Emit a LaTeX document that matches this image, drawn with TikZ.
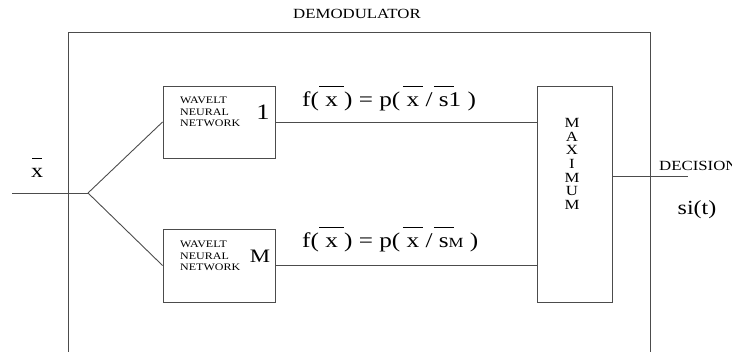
\documentclass[tikz,border=0pt]{standalone}
\usepackage{fontspec}
\setmainfont{Liberation Serif}[FakeStretch=1.2]
\newcommand\obar[3]{\ooalign{#1\cr\hidewidth\raisebox{#2}{\rule{#3}{0.8pt}}\hidewidth\cr}}
\tikzset{
  ln/.style={draw=black!70, line width=0.9pt},
  blk/.style={draw=black!70, line width=0.9pt, inner sep=0pt},
  small/.style={font=\fontsize{10}{11.5}\selectfont, align=left, inner sep=0pt},
  mid/.style={font=\fontsize{14}{13.7}\selectfont, inner sep=0pt},
  big/.style={font=\fontsize{19}{19}\selectfont, inner sep=0pt},
  formula/.style={font=\fontsize{21}{21}\selectfont, inner sep=0pt, anchor=base west},
}
\begin{document}
\begin{tikzpicture}[x=1pt,y=-1pt]
\useasboundingbox (0,0) rectangle (732,352);
% outer demodulator frame (open at bottom)
\draw[ln] (68,360) -- (68,32) -- (650,32) -- (650,360);
\node[mid] (demod) at (357,14) {DEMODULATOR};
% blocks
\node[blk, minimum width=112pt, minimum height=72pt] (w1) at (219,122) {};
\node[blk, minimum width=112pt, minimum height=73pt] (wm) at (219,265.5) {};
\node[blk, minimum width=75pt, minimum height=216pt] (mx) at (574.5,194) {};
% block texts
\node[small, anchor=west] (w1t) at (180,112) {WAVELT\\NEURAL\\NETWORK};
\node[big, font=\fontsize{22}{22}\selectfont] (w1n) at (263,112) {1};
\node[small, anchor=west] (wmt) at (180,256) {WAVELT\\NEURAL\\NETWORK};
\node[big] (wmn) at (260,256) {M};
\node[mid, align=center] (mxt) at (572,164) {M\\A\\X\\I\\M\\U\\M};
% input
\coordinate (in) at (12,193);
\coordinate (br) at (88,193);
\node[font=\fontsize{20}{20}\selectfont, inner sep=0pt, anchor=base] (xl) at (37,178) {\obar{x}{19pt}{10pt}};
\draw[ln] (in) -- (br);
\draw[ln] (br) -- (w1.west);
\draw[ln] (br) -- (wm.west);
% branches to maximum
\draw[ln] (w1.east) -- (mx.west |- w1.east);
\draw[ln] (wm.east) -- (mx.west |- wm.east);
\node[formula] (f1) at (302,107) {f( \obar{x}{20.5pt}{25pt} ) = p( \obar{x}{20.5pt}{20pt} / \obar{s}{20.5pt}{20pt}1 )};
\node[formula] (fm) at (302,248) {f( \obar{x}{20.5pt}{25pt} ) = p( \obar{x}{20.5pt}{20pt} / \obar{s}{20.5pt}{20pt}{\fontsize{14}{14}\selectfont M} )};
% output
\coordinate (out) at (688,176);
\draw[ln] (mx.east |- out) -- (out);
\node[mid, anchor=base west] (dec) at (659,171) {DECISION};
\node[big, font=\fontsize{20}{20}\selectfont] (si) at (697,210) {si(t)};
\end{tikzpicture}
\end{document}
